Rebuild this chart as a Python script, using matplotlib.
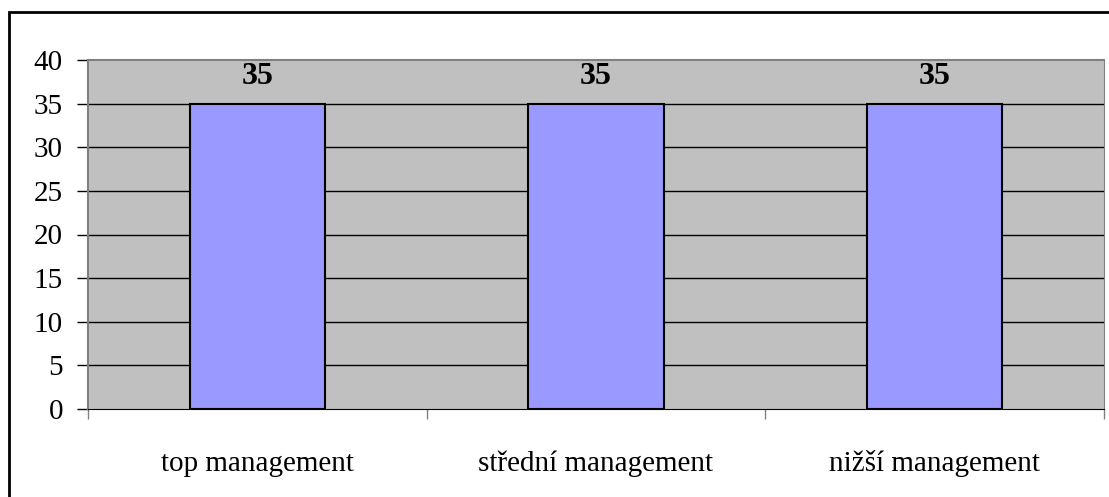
import matplotlib.pyplot as plt
import numpy as np
from matplotlib.patches import Rectangle

categories = ['top management', 'střední management', 'nižší management']
values = [35, 35, 35]
yticks = [0, 5, 10, 15, 20, 25, 30, 35, 40]

plt.rcParams['font.family'] = ['Liberation Serif', 'DejaVu Serif']

W, H = 1109, 497
fig = plt.figure(figsize=(W / 100, H / 100), dpi=100)
fig.patch.set_facecolor('white')

# outer chart frame (runs off the right and bottom edges)
fig.patches.append(Rectangle((9 / W, -0.1), 1.2, (H - 12) / H + 0.1,
                             transform=fig.transFigure, fill=False,
                             edgecolor='black', linewidth=2))

left, right, top, bottom = 88, 1104, 60, 409
ax = fig.add_axes([left / W, 1 - bottom / H, (right - left) / W, (bottom - top) / H])
ax.set_facecolor('#C0C0C0')

x = np.arange(len(categories))
ax.set_xlim(-0.5, len(categories) - 0.5)
ax.set_ylim(0, 40)
for yv in yticks[1:-1]:
    ax.axhline(yv, color='black', linewidth=1, zorder=1)

bars = ax.bar(x, values, width=0.4, color='#9999FF', edgecolor='black',
              linewidth=1.5, zorder=2)
for xi, v in zip(x, values):
    ax.text(xi, v + 2.2, str(v), ha='center', va='baseline', fontsize=23,
            fontweight='bold')

for s in ['left', 'top']:
    ax.spines[s].set_color('#808080')
    ax.spines[s].set_linewidth(1.5)
ax.spines['right'].set_color('#808080')
ax.spines['bottom'].set_color('black')

ax.set_yticks(yticks)
ax.set_yticklabels([str(t) for t in yticks], fontsize=21)
ax.tick_params(axis='y', length=8, width=1, pad=10, direction='out')

# category labels sit between the boundary ticks
ax.set_xticks(np.arange(len(categories) + 1) - 0.5)
ax.set_xticklabels([])
ax.tick_params(axis='x', length=7, width=1, color='#808080', direction='out')
for xi, c in zip(x, categories):
    ax.text(xi, -7.1, c, ha='center', va='baseline', fontsize=21)

fig.savefig('out.png', dpi=100)
